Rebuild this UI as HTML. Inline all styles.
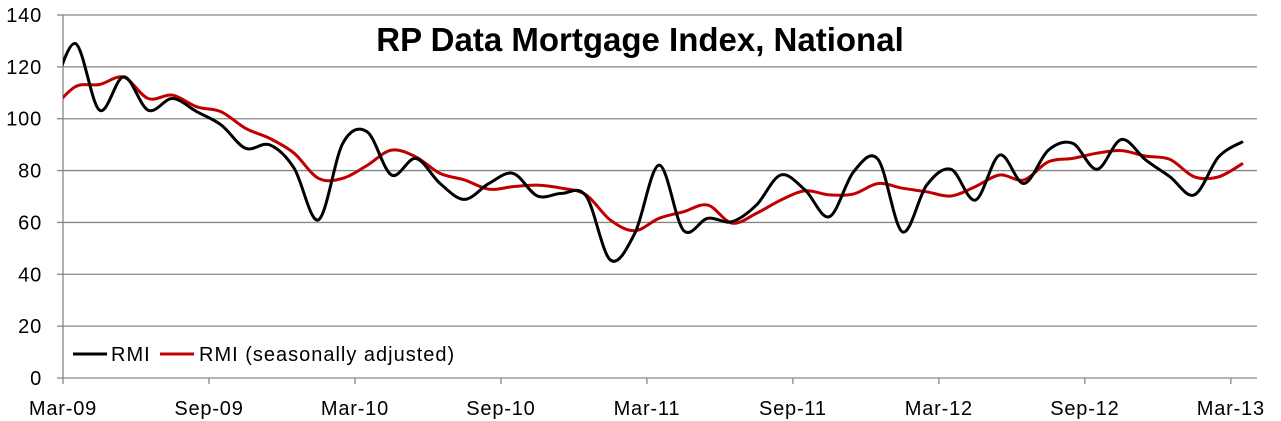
<!DOCTYPE html>
<html><head><meta charset="utf-8">
<style>
html,body{margin:0;padding:0;background:#fff;}
svg{display:block;font-family:"Liberation Sans",sans-serif;}
</style></head>
<body>
<svg id="chart" width="1281" height="421" viewBox="0 0 1281 421" xmlns="http://www.w3.org/2000/svg">
<defs><clipPath id="plotclip"><rect x="63" y="0" width="1194" height="380"/></clipPath></defs>
<g id="grid"></g>
<g id="yaxis"></g>
<g id="xaxis"></g>
<g clip-path="url(#plotclip)">
<path id="rmiSa" fill="none" stroke="#c00000" stroke-width="3" stroke-linejoin="round"/>
<path id="rmi" fill="none" stroke="#000" stroke-width="3" stroke-linejoin="round"/>
</g>
<text x="640" y="51" text-anchor="middle" font-size="33" font-weight="bold" fill="#000">RP Data Mortgage Index, National</text>
<g>
<line x1="73" y1="354" x2="107" y2="354" stroke="#000" stroke-width="3"/>
<text x="111" y="361" font-size="20" letter-spacing="1" fill="#000">RMI</text>
<line x1="160" y1="354" x2="194" y2="354" stroke="#c00000" stroke-width="3"/>
<text x="199" y="361" font-size="20" letter-spacing="1" fill="#000">RMI (seasonally adjusted)</text>
</g>
</svg>
<script>
// Data: monthly points starting Feb-09 (first is clipped by plot area)
const rmiValues = [108,129,103.3,116.2,103.3,107.8,102.7,97.6,88.6,89.9,80.9,61,90.5,95,78.3,84.7,75,68.9,75,78.9,70.2,71.2,70.2,45.5,55.8,82.1,57,61.6,60.3,66.7,78.3,72.5,62.2,79.6,84.3,56.4,74.4,80.5,68.6,86,75,87.9,90.5,80.5,92,84.1,77.6,70.6,85.3,91.2];
const rmiSaValues = [103,112.3,113.2,116,107.8,109.1,104.6,102.7,96.3,92.4,86.7,77,77,82,87.9,85.3,78.9,76.4,72.8,73.8,74.4,73.2,70.6,60.9,56.8,61.6,64.1,66.7,59.7,63.5,68.6,72.2,70.6,71,75,73.2,71.8,70.2,73.8,78.3,76.4,83.4,84.7,86.7,87.7,85.6,84.3,77.6,77.6,82.8];
const yTicks = [0,20,40,60,80,100,120,140];
const xTickLabels = ["Mar-09","Sep-09","Mar-10","Sep-10","Mar-11","Sep-11","Mar-12","Sep-12","Mar-13"];
const xTickMonths = [1,7,13,19,25,31,37,43,49]; // month index (0 = Feb-09) at label
const NS='http://www.w3.org/2000/svg';
const PX_PER_MONTH = 24.33;
function xMonthStart(m){return 63+(m-1)*PX_PER_MONTH;}
function xPoint(i){return xMonthStart(i)+PX_PER_MONTH/2;}
function y(v){return 378-v*(363/140);}
function mk(tag,attrs,parent){const e=document.createElementNS(NS,tag);for(const k in attrs)e.setAttribute(k,attrs[k]);parent.appendChild(e);return e;}
const grid=document.getElementById('grid'),ya=document.getElementById('yaxis'),xa=document.getElementById('xaxis');
yTicks.forEach(t=>{
  if(t>0){const g=mk('line',{x1:63,x2:1257,y1:y(t),y2:y(t),stroke:'#868686','stroke-width':1.3},grid);
  
  }
  const tk=mk('line',{x1:57,x2:63,y1:y(t),y2:y(t),stroke:'#868686','stroke-width':1.3},ya);
  
  
  const tx=mk('text',{x:42,y:y(t)+7,'text-anchor':'end','font-size':20,'letter-spacing':0.8,fill:'#000'},ya);
  tx.textContent=t;
  
  
});
const ax=mk('line',{x1:63,x2:63,y1:15,y2:378,stroke:'#868686','stroke-width':1.3},ya);


const bx=mk('line',{x1:63,x2:1257,y1:378,y2:378,stroke:'#868686','stroke-width':1.3},xa);


xTickLabels.forEach((l,i)=>{
  const xx=xMonthStart(xTickMonths[i]);
  const tk=mk('line',{x1:xx,x2:xx,y1:378,y2:384,stroke:'#868686','stroke-width':1.3},xa);
  
  
  const tx=mk('text',{x:xx,y:415,'text-anchor':'middle','font-size':20,'letter-spacing':0.8,fill:'#000'},xa);
  tx.textContent=l;
  
  
});
function smoothPath(vals){
  const p=vals.map((v,i)=>[xPoint(i),y(v)]);
  let d='M'+p[0][0].toFixed(1)+','+p[0][1].toFixed(1);
  for(let i=0;i<p.length-1;i++){
    const p0=p[Math.max(i-1,0)],p1=p[i],p2=p[i+1],p3=p[Math.min(i+2,p.length-1)];
    const c1=[p1[0]+(p2[0]-p0[0])/6,p1[1]+(p2[1]-p0[1])/6];
    const c2=[p2[0]-(p3[0]-p1[0])/6,p2[1]-(p3[1]-p1[1])/6];
    d+=' C'+c1.map(n=>n.toFixed(1)).join(',')+' '+c2.map(n=>n.toFixed(1)).join(',')+' '+p2.map(n=>n.toFixed(1)).join(',');
  }
  return d;
}
document.getElementById('rmi').setAttribute('d',smoothPath(rmiValues));
document.getElementById('rmiSa').setAttribute('d',smoothPath(rmiSaValues));
</script>
</body></html>
